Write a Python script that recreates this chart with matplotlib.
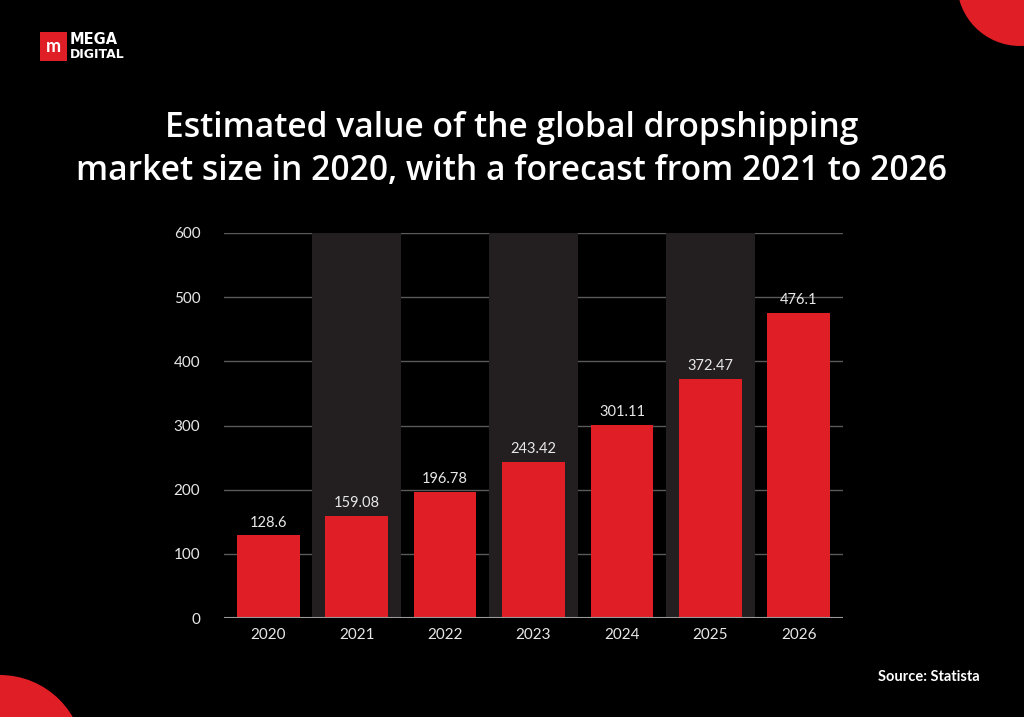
import numpy as np
import matplotlib as mpl
mpl.use("Agg")
import matplotlib.pyplot as plt
from matplotlib.patches import Ellipse, Rectangle

years = ["2020", "2021", "2022", "2023", "2024", "2025", "2026"]
values = [128.6, 159.08, 196.78, 243.42, 301.11, 372.47, 476.1]
value_labels = ["128.6", "159.08", "196.78", "243.42", "301.11", "372.47", "476.1"]
y_ticks = [0, 100, 200, 300, 400, 500, 600]
shaded = [1, 3, 5]

RED = "#e01e26"
BAND = "#231f20"
FONT = ["Lato", "DejaVu Sans"]
TITLE_FONT = ["Open Sans", "DejaVu Sans"]

plt.rcParams['font.family'] = FONT

W, H = 1024, 717
fig = plt.figure(figsize=(W / 100, H / 100), dpi=100)
fig.patch.set_facecolor("black")

# corner decorations (ellipse in figure coords so they stay round in pixels)
fig.patches.append(Ellipse((1020 / W, 1 + 17 / H), 2 * 63 / W, 2 * 63 / H,
                           transform=fig.transFigure, facecolor=RED, edgecolor="none"))
fig.patches.append(Ellipse((0, 1 - 759 / H), 2 * 84 / W, 2 * 84 / H,
                           transform=fig.transFigure, facecolor=RED, edgecolor="none"))

# logo
fig.patches.append(Rectangle((40 / W, 1 - 61 / H), 27 / W, 29 / H,
                             transform=fig.transFigure, facecolor=RED, edgecolor="none"))
fig.text(53.5 / W, 1 - 47 / H, "m", color="white", fontsize=13, fontweight="bold",
         ha="center", va="center")
narrow = ["Liberation Sans Narrow", "DejaVu Sans"]
fig.text(70 / W, 1 - 40 / H, "MEGA", color="white", fontsize=10.5, fontweight="bold",
         ha="left", va="center", family=narrow)
fig.text(70 / W, 1 - 55 / H, "DIGITAL", color="white", fontsize=9, fontweight="bold",
         ha="left", va="center", family=narrow)

# title
fig.text(0.5, 1 - 128 / H, "Estimated value of the global dropshipping", color="white",
         fontsize=24.2, fontweight="semibold", ha="center", va="center", family=TITLE_FONT)
fig.text(0.5, 1 - 171 / H, "market size in 2020, with a forecast from 2021 to 2026", color="white",
         fontsize=24.2, fontweight="semibold", ha="center", va="center", family=TITLE_FONT)

fig.text(980 / W, 1 - 677 / H, "Source: Statista", color="white", fontsize=10.5,
         fontweight="bold", ha="right", va="center")

ax = fig.add_axes([224 / W, 1 - 618 / H, (843 - 224) / W, (618 - 233) / H])
ax.set_facecolor("black")
x = np.arange(len(years))

for i in shaded:
    ax.bar(x[i], y_ticks[-1], width=1.0, color=BAND, zorder=2)

for t in y_ticks[1:]:
    ax.axhline(t, color="#5a5a5a", linewidth=1, zorder=1)
ax.axhline(0, color="#9a9a9a", linewidth=1.5, zorder=4)

ax.bar(x, values, width=0.71, color=RED, zorder=3)
for xi, v, lab in zip(x, values, value_labels):
    ax.text(xi, v + 9, lab, color="#e8e8e8", fontsize=10.5, ha="center", va="bottom", zorder=5)

ax.set_xlim(-0.5, 6.5)
ax.set_ylim(0, 600)
ax.set_xticks(x)
ax.set_xticklabels(years)
ax.set_yticks(y_ticks)
ax.tick_params(axis="both", length=0, colors="#e8e8e8", labelsize=11)
ax.tick_params(axis="y", pad=17)
ax.tick_params(axis="x", pad=7)
for s in ax.spines.values():
    s.set_visible(False)

fig.savefig("out.png", dpi=100, facecolor="black")
